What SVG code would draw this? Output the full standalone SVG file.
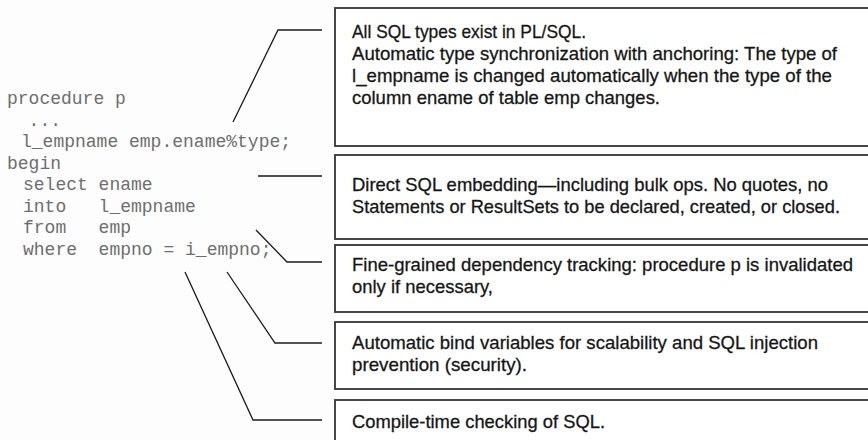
<svg xmlns="http://www.w3.org/2000/svg" width="868" height="440" viewBox="0 0 868 440">
  <style>
    .code { font-family: "Liberation Mono", "DejaVu Sans Mono", monospace; font-size: 18px; fill: #6e6e6e; white-space: pre; }
    .note { font-family: "Liberation Sans Narrow", "Liberation Sans", Arial, sans-serif; font-size: 19px; fill: #161616; stroke: #161616; stroke-width: 0.3; }
    .box { fill: #ffffff; stroke: #333333; stroke-width: 1.8; }
    .lead { fill: none; stroke: #1a1a1a; stroke-width: 1.3; }
  </style>
  <rect width="868" height="440" fill="#fdfdfd"/>

  <!-- PL/SQL procedure source -->
  <g id="code">
    <text class="code" x="7" y="104">procedure p</text>
    <text class="code" x="28.6" y="125.5">...</text>
    <text class="code" x="21" y="147">l_empname emp.ename%type;</text>
    <text class="code" x="7" y="168.5">begin</text>
    <text class="code" x="23" y="190" xml:space="preserve">select ename</text>
    <text class="code" x="23" y="211.5" xml:space="preserve">into   l_empname</text>
    <text class="code" x="23" y="233" xml:space="preserve">from   emp</text>
    <text class="code" x="23" y="254.5" xml:space="preserve">where  empno = i_empno;</text>
  </g>

  <!-- leader lines from the code to the notes -->
  <g id="connectors">
    <polyline class="lead" points="233,122 278,30 322,30"/>
    <polyline class="lead" points="258,176 322,176"/>
    <polyline class="lead" points="256,230 287,262 322,262"/>
    <polyline class="lead" points="227,272 275,343 322,343"/>
    <polyline class="lead" points="185,272 253,420 322,420"/>
  </g>

  <g id="note-types">
    <rect class="box" x="335" y="8" width="545" height="138"/>
    <text class="note" x="352" y="38" textLength="234" lengthAdjust="spacingAndGlyphs">All SQL types exist in PL/SQL.</text>
    <text class="note" x="352" y="60" textLength="485" lengthAdjust="spacingAndGlyphs">Automatic type synchronization with anchoring: The type of</text>
    <text class="note" x="352" y="82" textLength="480" lengthAdjust="spacingAndGlyphs">l_empname is changed automatically when the type of the</text>
    <text class="note" x="352" y="104" textLength="308" lengthAdjust="spacingAndGlyphs">column ename of table emp changes.</text>
  </g>

  <g id="note-embedding">
    <rect class="box" x="335" y="155" width="545" height="84"/>
    <text class="note" x="352" y="191" textLength="476" lengthAdjust="spacingAndGlyphs">Direct SQL embedding—including bulk ops. No quotes, no</text>
    <text class="note" x="352" y="213" textLength="488" lengthAdjust="spacingAndGlyphs">Statements or ResultSets to be declared, created, or closed.</text>
  </g>

  <g id="note-dependency">
    <rect class="box" x="335" y="245" width="545" height="67"/>
    <text class="note" x="352" y="271" textLength="501" lengthAdjust="spacingAndGlyphs">Fine-grained dependency tracking: procedure p is invalidated</text>
    <text class="note" x="352" y="293" textLength="141" lengthAdjust="spacingAndGlyphs">only if necessary,</text>
  </g>

  <g id="note-bind">
    <rect class="box" x="335" y="322" width="545" height="67"/>
    <text class="note" x="352" y="349" textLength="466" lengthAdjust="spacingAndGlyphs">Automatic bind variables for scalability and SQL injection</text>
    <text class="note" x="352" y="371" textLength="175" lengthAdjust="spacingAndGlyphs">prevention (security).</text>
  </g>

  <g id="note-compile">
    <rect class="box" x="335" y="400" width="545" height="60"/>
    <text class="note" x="352" y="428" textLength="253" lengthAdjust="spacingAndGlyphs">Compile-time checking of SQL.</text>
  </g>
</svg>
